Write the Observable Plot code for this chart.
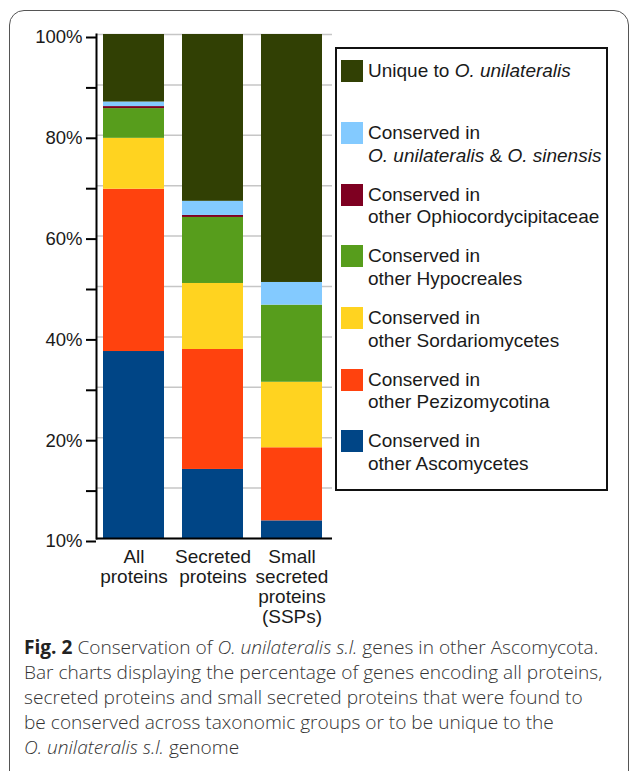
<!DOCTYPE html>
<html>
<head>
<meta charset="utf-8">
<script src="https://cdn.jsdelivr.net/npm/d3@7"></script>
<script src="https://cdn.jsdelivr.net/npm/@observablehq/plot@0.6"></script>
<style>
  html, body { margin: 0; padding: 0; background: #fff; }
  body { width: 629px; height: 771px; overflow: hidden; position: relative; }
  #frame { position: absolute; left: 9px; top: 10px; width: 620px; height: 820px; border: 1.5px solid #555; border-radius: 15px; box-sizing: border-box; }
  #chart { position: absolute; left: 0; top: 0; }
  #legend { position: absolute; left: 335px; top: 47px; width: 273px; height: 444px; border: 2px solid #111; box-sizing: border-box;
            font-family: "Liberation Sans", Arial, Helvetica, sans-serif; font-size: 19px; color: #1a1a1a; }
  .item { position: absolute; left: 0; }
  .sw { position: absolute; left: 4px; top: 0; width: 22px; height: 22px; }
  .lab { position: absolute; left: 31px; top: 0; line-height: 22.7px; white-space: nowrap; }
  #caption { position: absolute; left: 24px; top: 635px; font-family: "Open Sans", "Noto Sans", sans-serif; font-weight: 300;
             font-size: 19.1px; line-height: 25px; color: #333; white-space: nowrap; }
  #caption b { font-weight: 700; color: #222; }
</style>
</head>
<body>
<div id="frame"></div>
<div id="chart"></div>
<div id="legend"></div>
<div id="caption"><b>Fig. 2</b> Conservation of <i>O. unilateralis s.l.</i> genes in other Ascomycota.<br>Bar charts displaying the percentage of genes encoding all proteins,<br>secreted proteins and small secreted proteins that were found to<br>be conserved across taxonomic groups or to be unique to the<br><i>O. unilateralis s.l.</i> genome</div>
<script>
// Categories (x axis)
const categories = ["All\nproteins", "Secreted\nproteins", "Small\nsecreted\nproteins\n(SSPs)"];

// Series, bottom of stack to top
const series = [
  "Conserved in\nother Ascomycetes",
  "Conserved in\nother Pezizomycotina",
  "Conserved in\nother Sordariomycetes",
  "Conserved in\nother Hypocreales",
  "Conserved in\nother Ophiocordycipitaceae",
  "Conserved in\nO. unilateralis & O. sinensis",
  "Unique to O. unilateralis"
];
const colors = ["#004586", "#ff420e", "#ffd320", "#579d1c", "#7e0021", "#83caff", "#314004"];

// Percentages per category (All, Secreted, SSPs)
const ascomycetes      = [37.1, 13.7, 3.5];
const pezizomycotina   = [32.2, 23.8, 14.5];
const sordariomycetes  = [10.1, 13.1, 13.0];
const hypocreales      = [5.9, 13.1, 15.3];
const ophiocordycipit  = [0.4, 0.4, 0.0];
const sinensis         = [0.9, 2.8, 4.5];
const unique           = [13.4, 33.1, 49.2];
const values = [ascomycetes, pezizomycotina, sordariomycetes, hypocreales, ophiocordycipit, sinensis, unique];

// Y tick values and labels (as printed in the figure)
const yTicks = [0, 10, 20, 30, 40, 50, 60, 70, 80, 90, 100];
const yTickLabels = ["10%", "", "20%", "", "40%", "", "60%", "", "80%", "", "100%"];

const data = series.flatMap((s, i) => categories.map((c, j) => ({category: c, series: s, value: values[i][j]})));

const chart = Plot.plot({
  width: 629,
  height: 620,
  marginLeft: 96,
  marginRight: 297,
  marginTop: 34,
  marginBottom: 82,
  style: {fontFamily: "'Liberation Sans', Arial, Helvetica, sans-serif", fontSize: "18.5px", color: "#1a1a1a", background: "transparent", overflow: "visible"},
  x: {domain: categories, paddingInner: 0.228, paddingOuter: 0.1, align: 0.4, axis: null},
  y: {domain: [0, 100], axis: null},
  color: {domain: series, range: colors},
  marks: [
    Plot.gridY(yTicks, {stroke: "#c6c6c6", strokeOpacity: 1, strokeWidth: 1.5}),
    Plot.barY(data, {x: "category", y: "value", fill: "series", order: series}),
    Plot.axisY(yTicks, {label: null, tickSize: 10, tickPadding: 4, strokeWidth: 2, stroke: "#000", dy: 3,
      tickFormat: d => yTickLabels[yTicks.indexOf(d)]}),
    Plot.axisX({label: null, tickSize: 0, tickPadding: 10.5, lineHeight: 1.05, fontSize: 19, fill: "#1a1a1a"}),
    Plot.ruleY([0], {stroke: "#000", strokeWidth: 2}),
    Plot.frame({anchor: "left", stroke: "#000", strokeWidth: 2})
  ]
});
document.getElementById("chart").appendChild(chart);

// Legend (top to bottom = reverse stack order)
const legend = document.getElementById("legend");
const italicize = s => s.replace(/&/g, "&amp;").replace(/O\. (unilateralis|sinensis)/g, "<i>O. $1</i>").replace(/\n/g, "<br>");
series.slice().reverse().forEach((s, i) => {
  const item = document.createElement("div");
  item.className = "item";
  item.style.top = (11.3 + i * 61.67) + "px";
  item.innerHTML = `<div class="sw" style="background:${colors[series.indexOf(s)]}"></div><div class="lab">${italicize(s)}</div>`;
  legend.appendChild(item);
});
</script>
</body>
</html>
